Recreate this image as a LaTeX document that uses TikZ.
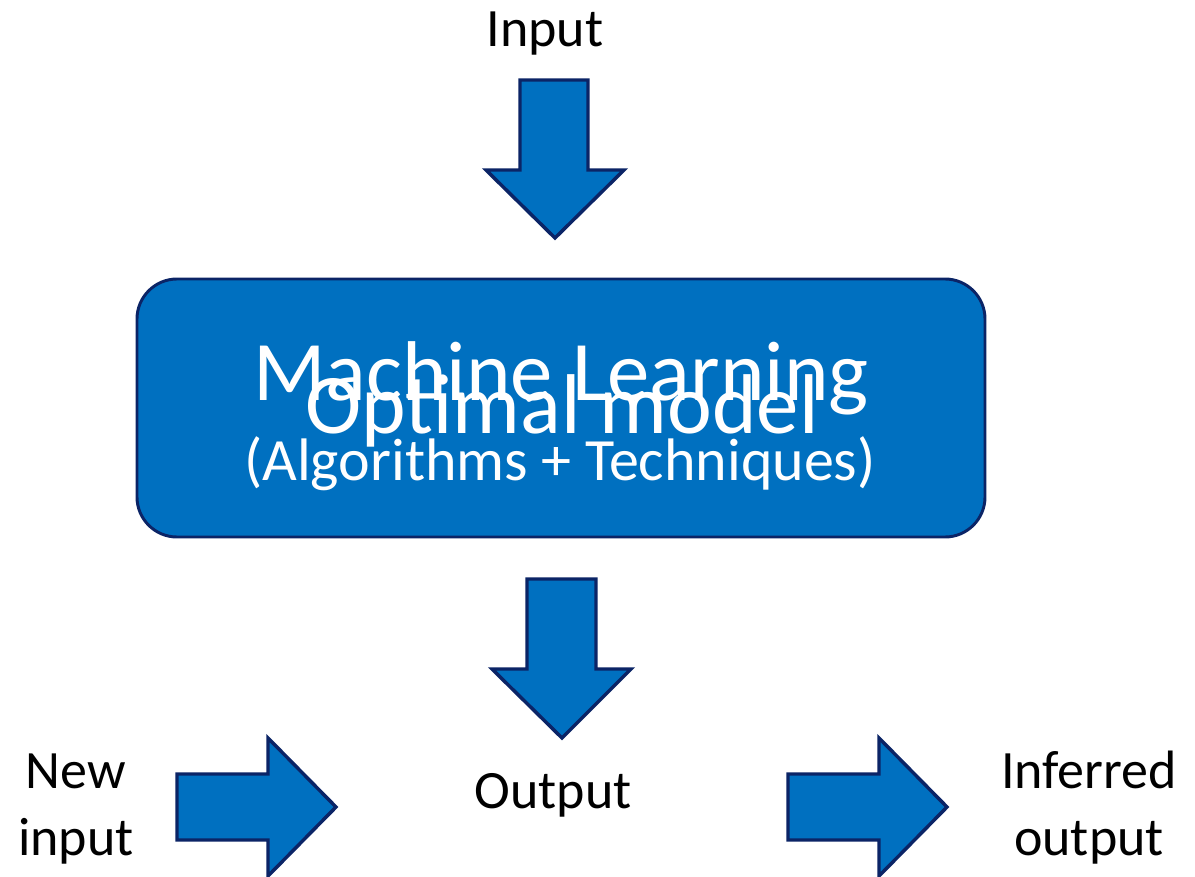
\documentclass[tikz,border=0pt]{standalone}
\usepackage{fontspec}
\setmainfont{Carlito}
\definecolor{fillblue}{HTML}{0070C0}
\definecolor{navy}{HTML}{0B2466}
\tikzset{
  blockarrow/.style={fill=fillblue, draw=navy, line width=2.6pt, line join=miter},
  mlbox/.style={fill=fillblue, draw=navy, line width=2.2pt, rounded corners=30pt},
  lbl/.style={anchor=base, inner sep=0pt, font=\fontsize{40.5}{48}\selectfont, text=black},
  boxtxt/.style={anchor=base, inner sep=0pt, text=white},
}
\begin{document}
\begin{tikzpicture}[x=0.75pt, y=-0.75pt]
\useasboundingbox (0,0) rectangle (1195,877);
% labels
\node[lbl] (input) at (545,47) {Input};
\node[lbl] (output) at (553,808) {Output};
\node[lbl] (newa) at (76,788) {New};
\node[lbl] (newb) at (76,855) {input};
\node[lbl] (infa) at (1089,788) {Inferred};
\node[lbl] (infb) at (1089,855) {output};
% box
\draw[mlbox] (137,279) rectangle (985,537);
\node[boxtxt, font=\fontsize{63.6}{70}\selectfont] (ml) at (561,400) {Machine Learning};
\node[boxtxt, font=\fontsize{63.6}{70}\selectfont] (om) at (562,433) {Optimal model};
\node[boxtxt, font=\fontsize{45}{54}\selectfont] (alg) at (560,480) {(Algorithms + Techniques)};
% top arrow
\draw[blockarrow] (520,80) -- (588,80) -- (588,170) -- (624,170) -- (555,238) -- (486,170) -- (520,170) -- cycle;
% middle arrow
\draw[blockarrow] (527,579) -- (596,579) -- (596,669) -- (631,669) -- (562,738) -- (492,669) -- (527,669) -- cycle;
% left arrow
\draw[blockarrow] (177,774) -- (268,774) -- (268,738) -- (336,807) -- (268,876) -- (268,840) -- (177,840) -- cycle;
% right arrow
\draw[blockarrow] (788,774) -- (879,774) -- (879,738) -- (947,807) -- (879,876) -- (879,840) -- (788,840) -- cycle;
\end{tikzpicture}
\end{document}
